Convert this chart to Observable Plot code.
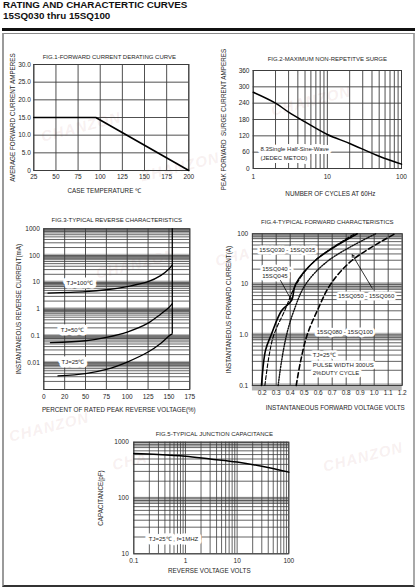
<!DOCTYPE html>
<html><head><meta charset="utf-8">
<script src="https://cdn.jsdelivr.net/npm/d3@7"></script>
<script src="https://cdn.jsdelivr.net/npm/@observablehq/plot@0.6"></script>
<style>
html,body{margin:0;padding:0;background:#fff;}
#page{position:relative;width:416px;height:587px;overflow:hidden;font-family:'Liberation Sans',Arial,Helvetica,sans-serif;color:#111;}
.hdr{position:absolute;left:3px;font-weight:bold;font-size:9.8px;line-height:10px;white-space:nowrap;}
.rule{position:absolute;left:2px;top:28px;width:413px;height:2.5px;background:#111;}
.box{position:absolute;left:2px;top:33px;width:413px;height:554px;box-sizing:border-box;border-left:2px solid #9a9a9a;border-right:2px solid #a8a8a8;border-top:1px solid #8a8a8a;border-bottom:2px solid #333;}
.wm{position:absolute;font-style:italic;font-weight:bold;font-size:15px;color:rgba(205,150,150,0.15);white-space:nowrap;transform:rotate(-14deg);letter-spacing:1px;}
</style></head>
<body><div id="page">
<div class="hdr" style="top:0px">RATING AND CHARACTERTIC CURVES</div>
<div class="hdr" style="top:11px">15SQ030 thru 15SQ100</div>
<div class="rule"></div>
<div class="box"></div>
<div class="wm" style="left:40px;top:118px">CHANZON</div>
<div class="wm" style="left:140px;top:158px">ZHANZON</div>
<div class="wm" style="left:270px;top:92px">CHANZON</div>
<div class="wm" style="left:95px;top:255px">CHANZON</div>
<div class="wm" style="left:215px;top:248px">CHA</div>
<div class="wm" style="left:8px;top:418px">CHANZON</div>
<div class="wm" style="left:322px;top:448px">CHANZON</div>
<div class="wm" style="left:112px;top:452px">CHA</div>
</div>
<script>
// ---------- DATA ----------
// Fig.1 forward current derating
const fig1Temp = [25, 95, 200];
const fig1Current = [15, 15, 0];
const fig1XTicks = [25, 50, 75, 100, 125, 150, 175, 200];
const fig1YTicks = [0, 5, 10, 15, 20, 25, 30];
const fig1YLabels = ["0", "5.0", "10.0", "15.0", "20.0", "25.0", "30.0"];

// Fig.2 max non-repetitive surge
const fig2Cycles = [1, 2, 3, 5, 10, 20, 50, 100];
const fig2Surge = [280, 240, 207, 171, 125, 92, 45, 16];
const fig2XTicks = [1, 2, 5, 10, 20, 50, 100];
const fig2XGrid = [1, 2, 3, 4, 5, 6, 7, 8, 9, 10, 20, 30, 40, 50, 60, 70, 80, 90, 100];
const fig2YTicks = [0, 60, 120, 180, 240, 300, 360];
const fig2Notes = [
  {text: "8.3Single Half-Sine-Wave", x: 1.25, y: 72},
  {text: "(JEDEC METOD)", x: 1.25, y: 39}
];

// Fig.3 typical reverse characteristics
const fig3Percent100 = [5, 50, 75, 100, 125, 140, 150, 154];
const fig3Current100 = [4.0, 4.5, 5.3, 7.0, 10.6, 17.8, 31.6, 45];
const fig3Percent50 = [8, 50, 75, 100, 125, 140, 150, 154];
const fig3Current50 = [0.056, 0.066, 0.089, 0.14, 0.30, 0.65, 1.15, 1.6];
const fig3Percent25 = [17, 50, 75, 100, 125, 140, 150, 154];
const fig3Current25 = [0.0032, 0.0039, 0.0056, 0.0106, 0.025, 0.052, 0.10, 0.12];
const fig3XTicks = [0, 25, 50, 75, 100, 125, 150, 175];
const fig3XLabels = ["0", "20", "50", "75", "100", "125", "150", "175"];
const fig3YTicks = [0.01, 0.1, 1, 10, 100, 1000];
const fig3YLabels = ["0.01", "0.1", "1", "10", "100", "1000"];
const fig3Notes = [
  {text: "TJ=100℃", x: 43, y: 9.7},
  {text: "TJ=50℃", x: 34, y: 0.17},
  {text: "TJ=25℃", x: 35, y: 0.0102}
];

// Fig.4 typical forward characteristics
const fig4VoltsA = [0.195, 0.224, 0.264, 0.338, 0.41, 0.438, 0.581, 0.879];
const fig4AmpsA = [0.1, 0.5, 1, 3, 4.8, 10, 30, 100];
const fig4VoltsB = [0.219, 0.25, 0.283, 0.36, 0.443, 0.58, 0.86];
const fig4AmpsB = [0.1, 0.4, 1, 3, 10, 30, 100];
const fig4VoltsC = [0.314, 0.338, 0.374, 0.426, 0.51, 0.676, 1.01];
const fig4AmpsC = [0.1, 0.3, 1, 3, 10, 30, 100];
const fig4VoltsD = [0.443, 0.474, 0.521, 0.593, 0.688, 0.843, 1.148];
const fig4AmpsD = [0.1, 0.3, 1, 3, 10, 30, 100];
const fig4XTicks = [0.2, 0.3, 0.4, 0.5, 0.6, 0.7, 0.8, 0.9, 1.0, 1.1, 1.2];
const fig4YTicks = [0.1, 1, 10, 100];
const fig4YLabels = ["0.1", "1.0", "10", "100"];
const fig4Notes = [
  {text: "15SQ030 - 15SQ035", x: 0.379, y: 46.8, anchor: "middle"},
  {text: "15SQ040 -", x: 0.2, y: 20.3, anchor: "start"},
  {text: "15SQ045", x: 0.2, y: 14.5, anchor: "start"},
  {text: "15SQ050 - 15SQ060", x: 0.943, y: 5.85, anchor: "middle"},
  {text: "15SQ080 - 15SQ100", x: 0.79, y: 1.14, anchor: "middle"},
  {text: "TJ=25℃", x: 0.561, y: 0.393, anchor: "start"},
  {text: "PULSE WIDTH 300US", x: 0.561, y: 0.258, anchor: "start"},
  {text: "2%DUTY CYCLE", x: 0.561, y: 0.179, anchor: "start"}
];
const fig4Arrows = [
  {x1: 0.331, y1: 11.9, x2: 0.41, y2: 4.8},
  {x1: 0.986, y1: 8.4, x2: 0.843, y2: 38.5}
];

// Fig.5 typical junction capacitance
const fig5Volts = [0.1, 0.3, 1, 3, 10, 30, 100];
const fig5Cap = [630, 605, 562, 500, 440, 370, 291];
const fig5XTicks = [0.1, 1, 10, 100];
const fig5XLabels = ["0.1", "1", "10", "100"];
const fig5YTicks = [10, 100, 1000];
const fig5Notes = [{text: "TJ=25℃ , f=1MHZ", x: 0.195, y: 18.6}];

// ---------- HELPERS ----------
const FONT = "'Liberation Sans', Arial, Helvetica, sans-serif";
const GRID = "#3c3c3c";
const INK = "#1e1e1e";
const page = document.getElementById("page");

function mount(svg, left, top) {
  svg.style.position = "absolute";
  svg.style.left = left + "px";
  svg.style.top = top + "px";
  svg.style.background = "transparent";
  svg.style.maxWidth = "none";
  svg.style.overflow = "visible";
  page.appendChild(svg);
}
function logMinor(lo, hi) {
  const out = [];
  for (let k = lo; k < hi; k++) for (let m = 1; m < 10; m++) out.push(+(m * 10 ** k).toPrecision(6));
  out.push(10 ** hi);
  return out;
}
const zip = (xs, ys) => xs.map((x, i) => ({x, y: ys[i]}));
const labelMap = (ticks, labels) => { const m = new Map(ticks.map((t, i) => [t, labels[i]])); return d => m.get(d); };
const style = {fontFamily: FONT, fontSize: "6.5px", color: INK};
function titles(title, tdx, tdy, xl, xdx, xdy, yl, ydx) {
  return [
    Plot.text([title], {frameAnchor: "top", textAnchor: "middle", dx: tdx, dy: tdy, fontSize: 6, fill: INK}),
    Plot.text([xl], {frameAnchor: "bottom", textAnchor: "middle", dx: xdx, dy: xdy, fontSize: 6.3, fill: INK}),
    Plot.text([yl], {frameAnchor: "left", textAnchor: "middle", dx: ydx, rotate: -90, fontSize: 6.3, fill: INK})
  ];
}

// ---------- FIG 1 ----------
mount(Plot.plot({
  width: 204, height: 156, marginLeft: 31.3, marginRight: 17.7, marginTop: 20, marginBottom: 30,
  style,
  x: {type: "linear", domain: [25, 200]},
  y: {type: "linear", domain: [0, 30]},
  marks: [
    Plot.ruleX(fig1XTicks, {stroke: GRID, strokeWidth: 0.9}),
    Plot.ruleY(fig1YTicks, {stroke: GRID, strokeWidth: 0.9}),
    Plot.frame({stroke: GRID}),
    Plot.line(zip(fig1Temp, fig1Current), {x: "x", y: "y", stroke: "#000", strokeWidth: 1.6}),
    Plot.axisX(fig1XTicks, {tickSize: 0, tickPadding: 3.8, label: null}),
    Plot.axisY(fig1YTicks, {tickSize: 0, tickPadding: 3, label: null, tickFormat: labelMap(fig1YTicks, fig1YLabels)}),
    ...titles("FIG.1-FORWARD CURRENT DERATING CURVE", -2, -10,
              "CASE TEMPERATURE ℃", -7, 22,
              "AVERAGE FORWARD CURRENT AMPERES", -21.3)
  ]
}), 2, 44);

// ---------- FIG 2 ----------
mount(Plot.plot({
  width: 206, height: 156, marginLeft: 44.7, marginRight: 13, marginTop: 26, marginBottom: 32,
  style,
  x: {type: "log", domain: [1, 100]},
  y: {type: "linear", domain: [0, 360]},
  marks: [
    Plot.ruleX(fig2XGrid, {stroke: GRID, strokeWidth: 0.9}),
    Plot.ruleY(fig2YTicks, {stroke: GRID, strokeWidth: 0.9}),
    Plot.frame({stroke: GRID}),
    Plot.line(zip(fig2Cycles, fig2Surge), {x: "x", y: "y", stroke: "#000", strokeWidth: 1.5, curve: "catmull-rom"}),
    Plot.text(fig2Notes, {x: "x", y: "y", text: "text", textAnchor: "start", fontSize: 6, fill: INK, stroke: "white", strokeWidth: 6}),
    Plot.axisX(fig2XTicks, {tickSize: 0, tickPadding: 5.4, label: null, tickFormat: d => String(d)}),
    Plot.axisY(fig2YTicks, {tickSize: 0, tickPadding: 3.7, label: null}),
    ...titles("FIG.2-MAXIMUM NON-REPETITVE SURGE", 0, -13.3,
              "NUMBER OF CYCLES AT 60Hz", 3, 27,
              "PEAK FORWARD  SURGE CURRENT AMPERES", -29.4)
  ]
}), 208, 44);

// ---------- FIG 3 ----------
mount(Plot.plot({
  width: 204, height: 210, marginLeft: 41.3, marginRight: 16.7, marginTop: 23.3, marginBottom: 26,
  style,
  x: {type: "linear", domain: [0, 175]},
  y: {type: "log", domain: [0.001, 1000]},
  marks: [
    Plot.rect(fig3YTicks, {y1: d => d * 0.72, y2: d => Math.min(d * 1.12, 1000), fill: "#b4b4b4"}),
    Plot.ruleY(logMinor(-3, 3), {stroke: GRID, strokeWidth: 0.8}),
    Plot.ruleX(fig3XTicks, {stroke: GRID, strokeWidth: 0.9}),
    Plot.frame({stroke: GRID}),
    Plot.line(zip(fig3Percent100, fig3Current100), {x: "x", y: "y", stroke: "#000", strokeWidth: 1.3, curve: "catmull-rom"}),
    Plot.line(zip(fig3Percent50, fig3Current50), {x: "x", y: "y", stroke: "#000", strokeWidth: 1.3, curve: "catmull-rom"}),
    Plot.line(zip(fig3Percent25, fig3Current25), {x: "x", y: "y", stroke: "#000", strokeWidth: 1.3, curve: "catmull-rom"}),
    Plot.ruleX([fig3Percent25[fig3Percent25.length - 1]], {y1: fig3Current25[fig3Current25.length - 1], y2: 1000, stroke: "#000", strokeWidth: 1.3}),
    Plot.text(fig3Notes, {x: "x", y: "y", text: "text", fontSize: 6, fill: INK, stroke: "white", strokeWidth: 7}),
    Plot.axisX(fig3XTicks, {tickSize: 0, tickPadding: 4.4, label: null, tickFormat: labelMap(fig3XTicks, fig3XLabels)}),
    Plot.axisY(fig3YTicks, {tickSize: 0, tickPadding: 4, label: null, tickFormat: labelMap(fig3YTicks, fig3YLabels)}),
    ...titles("FIG.3-TYPICAL REVERSE CHARACTERISTICS", 0, -10.6,
              "PERCENT OF RATED PEAK REVERSE VOLTAGE(%)", 2, 22.7,
              "INSTANTANEOUS REVERSE CURRENT(mA)", -25)
  ]
}), 2, 205);

// ---------- FIG 4 ----------
const noteStyle = {x: "x", y: "y", text: "text", fontSize: 6, fill: INK, stroke: "white", strokeWidth: 5};
mount(Plot.plot({
  width: 206, height: 210, marginLeft: 43.9, marginRight: 12.3, marginTop: 28.3, marginBottom: 30,
  style,
  x: {type: "linear", domain: [0.13, 1.2]},
  y: {type: "log", domain: [0.1, 100]},
  marks: [
    Plot.rect(fig4YTicks, {y1: d => d * 0.78, y2: d => Math.min(d * 1.08, 100), fill: "#b4b4b4"}),
    Plot.ruleY(logMinor(-1, 2), {stroke: GRID, strokeWidth: 0.8}),
    Plot.ruleX(fig4XTicks, {stroke: GRID, strokeWidth: 0.9}),
    Plot.frame({stroke: GRID}),
    Plot.line(zip(fig4VoltsA, fig4AmpsA), {x: "x", y: "y", stroke: "#000", strokeWidth: 1.6, curve: "catmull-rom"}),
    Plot.line(zip(fig4VoltsB, fig4AmpsB), {x: "x", y: "y", stroke: "#000", strokeWidth: 1.1, strokeDasharray: "4,2", curve: "catmull-rom"}),
    Plot.line(zip(fig4VoltsC, fig4AmpsC), {x: "x", y: "y", stroke: "#111", strokeWidth: 1.4, strokeDasharray: "1.2,1.4", curve: "catmull-rom"}),
    Plot.line(zip(fig4VoltsD, fig4AmpsD), {x: "x", y: "y", stroke: "#000", strokeWidth: 1.6, strokeDasharray: "5,3", curve: "catmull-rom"}),
    Plot.text(fig4Notes, {...noteStyle, filter: d => d.anchor === "start", textAnchor: "start"}),
    Plot.text(fig4Notes, {...noteStyle, filter: d => d.anchor === "middle", textAnchor: "middle"}),
    Plot.arrow(fig4Arrows, {x1: "x1", y1: "y1", x2: "x2", y2: "y2", stroke: "#000", strokeWidth: 0.8, headLength: 5}),
    Plot.axisX(fig4XTicks, {tickSize: 0, tickPadding: 5, label: null, tickFormat: d => d.toFixed(1)}),
    Plot.axisY(fig4YTicks, {tickSize: 0, tickPadding: 4.2, label: null, tickFormat: labelMap(fig4YTicks, fig4YLabels)}),
    ...titles("FIG.4-TYPICAL FORWARD CHARACTERISTICS", 0, -14.3,
              "INSTANTANEOUS FORWARD VOLTAGE VOLTS", 8, 24,
              "INSTANTANEOUS FORWARD CURRENT(A)", -23.6)
  ]
}), 208, 205);

// ---------- FIG 5 ----------
mount(Plot.plot({
  width: 300, height: 165, marginLeft: 73.3, marginRight: 71.7, marginTop: 21.7, marginBottom: 31.7,
  style,
  x: {type: "log", domain: [0.1, 100]},
  y: {type: "log", domain: [10, 1000]},
  marks: [
    Plot.rect([100, 1000], {y1: d => d * 0.8, y2: d => Math.min(d * 1.03, 1000), fill: "#b8b8b8"}),
    Plot.ruleY(logMinor(1, 3), {stroke: GRID, strokeWidth: 0.8}),
    Plot.ruleX(logMinor(-1, 2), {stroke: GRID, strokeWidth: 0.8}),
    Plot.frame({stroke: GRID}),
    Plot.line(zip(fig5Volts, fig5Cap), {x: "x", y: "y", stroke: "#000", strokeWidth: 1.5, curve: "catmull-rom"}),
    Plot.text(fig5Notes, {x: "x", y: "y", text: "text", textAnchor: "start", fontSize: 6, fill: INK, stroke: "white", strokeWidth: 7}),
    Plot.axisX(fig5XTicks, {tickSize: 0, tickPadding: 5, label: null, tickFormat: labelMap(fig5XTicks, fig5XLabels)}),
    Plot.axisY(fig5YTicks, {tickSize: 0, tickPadding: 5, label: null, tickFormat: d => String(d)}),
    ...titles("FIG.5-TYPICAL JUNCTION CAPACITANCE", 3, -10.7,
              "REVERSE VOLTAGE VOLTS", -2, 19.4,
              "CAPACITANCE(pF)", -33.3)
  ]
}), 60, 420);
</script>
</body></html>
